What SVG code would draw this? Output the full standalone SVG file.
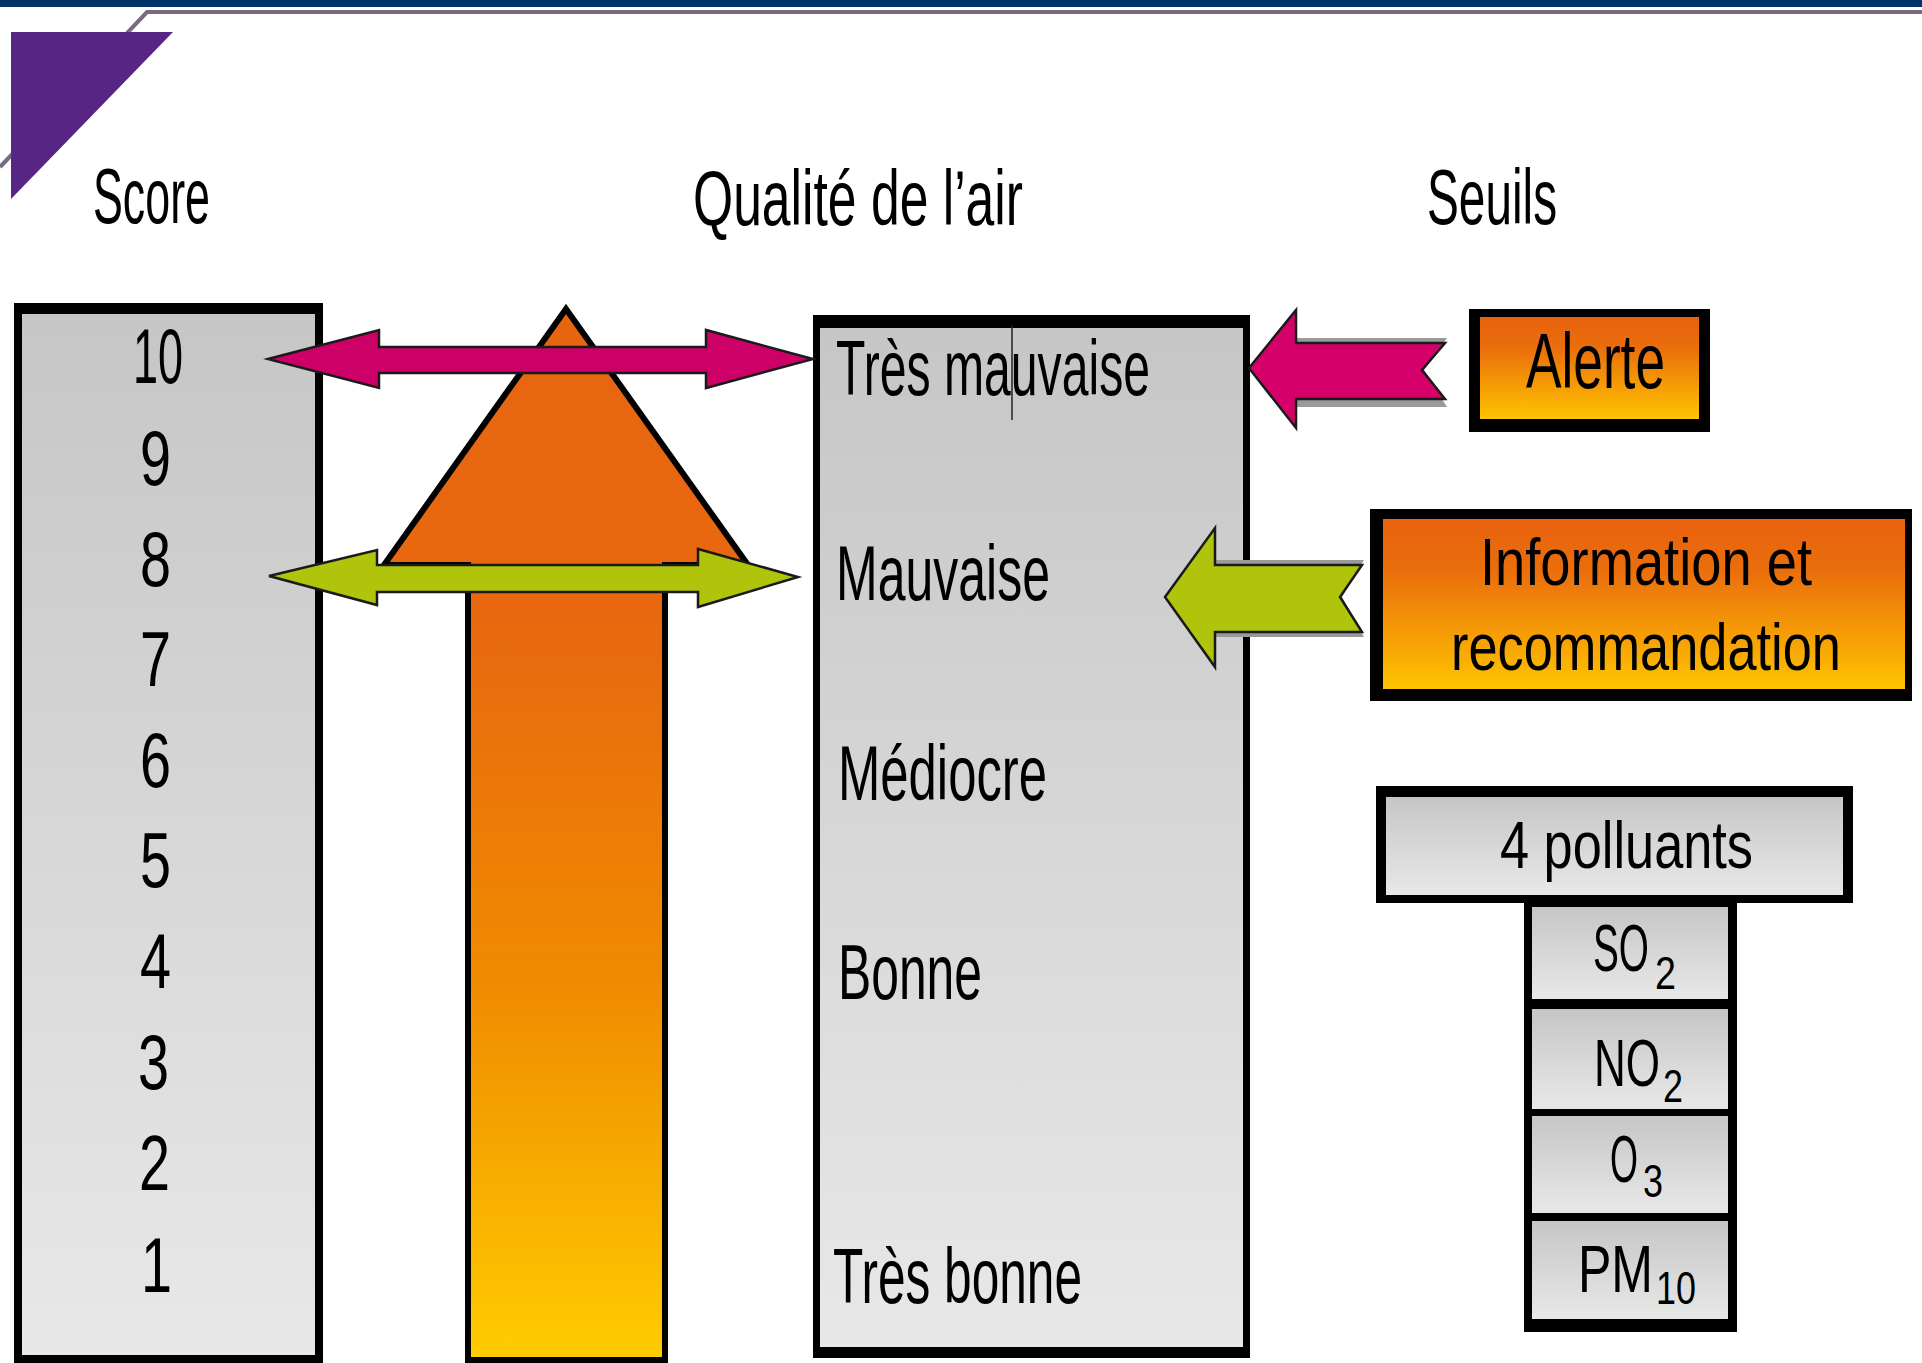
<svg xmlns="http://www.w3.org/2000/svg" width="1922" height="1363" viewBox="0 0 1922 1363">
<defs>
<style>
.t{font-family:"Liberation Sans Narrow","Liberation Sans",Arial,sans-serif;fill:#000;}
.big{font-size:78px;}
.mid{font-size:66px;}
.sub{font-size:46px;}
.frame{fill:#000;}
.arrow{stroke:#1a1a1a;stroke-width:2.5;stroke-linejoin:miter;}
</style>
<linearGradient id="greyV" x1="0" y1="0" x2="0" y2="1">
<stop offset="0" stop-color="#c6c6c6"/>
<stop offset="1" stop-color="#e8e8e8"/>
</linearGradient>
<linearGradient id="orangeBox" x1="0" y1="0" x2="0" y2="1">
<stop offset="0" stop-color="#e8620f"/>
<stop offset="0.3" stop-color="#ea6e0c"/>
<stop offset="1" stop-color="#ffc400"/>
</linearGradient>
<linearGradient id="orangeArrow" gradientUnits="userSpaceOnUse" x1="0" y1="309" x2="0" y2="1360">
<stop offset="0" stop-color="#e8650f"/>
<stop offset="0.3" stop-color="#e8680f"/>
<stop offset="0.65" stop-color="#f08c00"/>
<stop offset="1" stop-color="#ffcc00"/>
</linearGradient>
</defs>
<rect width="1922" height="1363" fill="#fff"/>
<g id="header">
<rect x="0" y="0" width="1922" height="7" fill="#003366"/>
<path d="M0,167 L147,12 L1922,12" fill="none" stroke="#776a85" stroke-width="4"/>
<polygon points="11,32 173,32 11,199" fill="#572583"/>
<text class="t big" x="93" y="223" textLength="117" lengthAdjust="spacingAndGlyphs">Score</text>
<text class="t big" x="693" y="225" textLength="330" lengthAdjust="spacingAndGlyphs">Qualité de l’air</text>
<text class="t big" x="1427" y="224" textLength="130" lengthAdjust="spacingAndGlyphs">Seuils</text>
</g>
<g id="score-box">
<rect class="frame" x="14" y="303" width="309" height="1060"/>
<rect x="22" y="314" width="293" height="1041" fill="url(#greyV)"/>
<text class="t big" x="133" y="383" textLength="50" lengthAdjust="spacingAndGlyphs">10</text>
<text class="t big" x="140" y="485" textLength="31" lengthAdjust="spacingAndGlyphs">9</text>
<text class="t big" x="140" y="586" textLength="31" lengthAdjust="spacingAndGlyphs">8</text>
<text class="t big" x="140" y="686" textLength="31" lengthAdjust="spacingAndGlyphs">7</text>
<text class="t big" x="140" y="787" textLength="31" lengthAdjust="spacingAndGlyphs">6</text>
<text class="t big" x="140" y="887" textLength="31" lengthAdjust="spacingAndGlyphs">5</text>
<text class="t big" x="140" y="988" textLength="31" lengthAdjust="spacingAndGlyphs">4</text>
<text class="t big" x="138" y="1089" textLength="31" lengthAdjust="spacingAndGlyphs">3</text>
<text class="t big" x="139" y="1190" textLength="31" lengthAdjust="spacingAndGlyphs">2</text>
<text class="t big" x="141" y="1292" textLength="31" lengthAdjust="spacingAndGlyphs">1</text>
</g>
<g id="trend-arrow">
<path d="M566,309 L748,565 L665,565 L665,1360 L468,1360 L468,565 L384,565 Z" fill="url(#orangeArrow)" stroke="#000" stroke-width="6" stroke-linejoin="miter"/>
</g>
<g id="quality-box">
<rect class="frame" x="813" y="315" width="437" height="1043"/>
<rect x="820" y="328" width="423" height="1019" fill="url(#greyV)"/>
<text class="t big" x="836" y="395" textLength="314" lengthAdjust="spacingAndGlyphs">Très mauvaise</text>
<line x1="1012" y1="325" x2="1012" y2="420" stroke="#222" stroke-width="1.5"/>
<text class="t big" x="836" y="600" textLength="214" lengthAdjust="spacingAndGlyphs">Mauvaise</text>
<text class="t big" x="838" y="800" textLength="209" lengthAdjust="spacingAndGlyphs">Médiocre</text>
<text class="t big" x="838" y="999" textLength="144" lengthAdjust="spacingAndGlyphs">Bonne</text>
<text class="t big" x="833" y="1303" textLength="249" lengthAdjust="spacingAndGlyphs">Très bonne</text>
</g>
<g id="alerte">
<rect class="frame" x="1469" y="309" width="241" height="123"/>
<rect x="1480" y="317" width="219" height="102" fill="url(#orangeBox)"/>
<text class="t big" x="1526" y="388" textLength="139" lengthAdjust="spacingAndGlyphs">Alerte</text>
</g>
<g id="information">
<rect class="frame" x="1370" y="509" width="542" height="192"/>
<rect x="1383" y="519" width="522" height="170" fill="url(#orangeBox)"/>
<text class="t mid" x="1480" y="585" textLength="332" lengthAdjust="spacingAndGlyphs">Information et</text>
<text class="t mid" x="1451" y="670" textLength="390" lengthAdjust="spacingAndGlyphs">recommandation</text>
</g>
<g id="polluants">
<rect class="frame" x="1376" y="786" width="477" height="117"/>
<rect x="1386" y="797" width="457" height="98" fill="url(#greyV)"/>
<text class="t mid" x="1500" y="868" textLength="253" lengthAdjust="spacingAndGlyphs">4 polluants</text>
</g>
<g id="pollutant-list">
<rect class="frame" x="1524" y="896" width="213" height="436"/>
<g id="so2">
<rect x="1532" y="907" width="196" height="92" fill="url(#greyV)"/>
<text class="t mid" x="1593" y="971"><tspan textLength="56" lengthAdjust="spacingAndGlyphs">SO</tspan><tspan class="sub" x="1655" y="989" textLength="21" lengthAdjust="spacingAndGlyphs">2</tspan></text>
</g>
<g id="no2">
<rect x="1532" y="1009" width="196" height="100" fill="url(#greyV)"/>
<text class="t mid" x="1594" y="1086"><tspan textLength="66" lengthAdjust="spacingAndGlyphs">NO</tspan><tspan class="sub" x="1663" y="1102" textLength="20" lengthAdjust="spacingAndGlyphs">2</tspan></text>
</g>
<g id="o3">
<rect x="1532" y="1116" width="196" height="97" fill="url(#greyV)"/>
<text class="t mid" x="1610" y="1182"><tspan textLength="28" lengthAdjust="spacingAndGlyphs">O</tspan><tspan class="sub" x="1643" y="1197" textLength="20" lengthAdjust="spacingAndGlyphs">3</tspan></text>
</g>
<g id="pm10">
<rect x="1532" y="1221" width="196" height="98" fill="url(#greyV)"/>
<text class="t mid" x="1578" y="1292"><tspan textLength="75" lengthAdjust="spacingAndGlyphs">PM</tspan><tspan class="sub" x="1656" y="1304" textLength="40" lengthAdjust="spacingAndGlyphs">10</tspan></text>
</g>
</g>
<g id="connectors">
<polygon class="arrow" fill="#cc0066" points="268,359 379,330 379,347 706,347 706,330 813,359 706,388 706,373 379,373 379,388"/>
<polygon class="arrow" fill="#afc40a" points="269,576 377,550 377,565 698,565 698,549 798,577 698,607 698,592 377,592 377,605"/>
<polygon fill="#9a9a9a" points="1296,338 1447,338 1424,370 1447,407 1296,407"/>
<polygon class="arrow" fill="#d6006b" points="1249,368 1296,310 1296,343 1445,343 1422,370 1445,399 1296,399 1296,428"/>
<polygon fill="#9a9a9a" points="1215,560 1364,560 1342,597 1364,637 1215,637"/>
<polygon class="arrow" fill="#afc40a" points="1165,597 1215,528 1215,565 1362,565 1340,597 1362,632 1215,632 1215,667"/>
</g>
</svg>
